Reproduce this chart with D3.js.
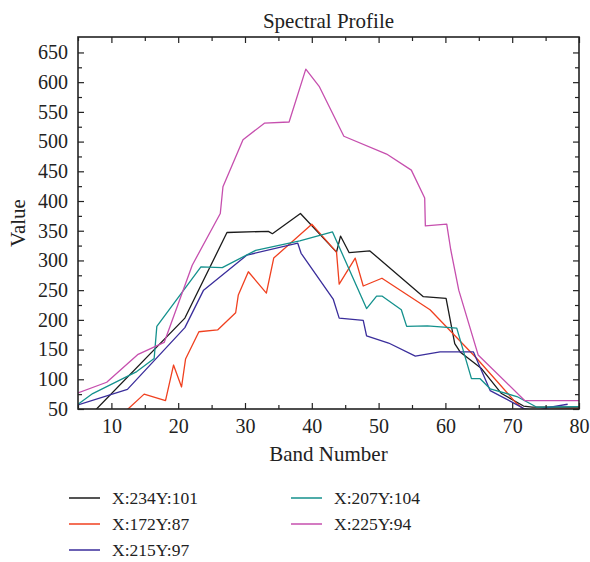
<!DOCTYPE html>
<html>
<head>
<meta charset="utf-8">
<script src="https://cdn.jsdelivr.net/npm/d3@7"></script>
<style>
  body { margin: 0; background: #fff; }
  text { font-family: "Liberation Serif", "DejaVu Serif", serif; fill: #222; }
</style>
</head>
<body>
<svg id="canvas"></svg>
<script>
/***********************************************************************/
// Data

var seriesNames  = ['X:234Y:101', 'X:172Y:87', 'X:215Y:97', 'X:207Y:104', 'X:225Y:94'];
var seriesColors = ['#1b1b1b', '#f0401f', '#3a2d9b', '#14918d', '#c64fae'];

var bandsBlack  = [5, 21, 27.3, 33.5, 34.1, 38.3, 43.7, 44.3, 45.6, 48.7, 56.7, 60.1, 61.4, 62.2, 65.4, 68.4, 71.7, 73, 80];
var valuesBlack = [18, 203, 347, 349, 345, 379, 314, 341, 313, 316, 239, 236, 160, 146, 118, 76, 55, 53, 53];

var bandsRed  = [12, 14.9, 18.1, 19.3, 20.5, 21.1, 23.1, 25.9, 28.6, 29.0, 30.5, 33.2, 34.3, 40.0, 43.7, 44.1, 46.5, 47.7, 50.5, 57.7, 64.7, 70.6, 71.8, 80];
var valuesRed = [45, 75, 64, 124, 87, 134, 180, 183, 212, 242, 281, 245, 304, 361, 314, 260, 304, 257, 270, 217, 135, 60, 49, 51];

var bandsBlue  = [5, 12.4, 21, 23.8, 30.3, 37.9, 38.4, 43.2, 44.1, 47.7, 48.2, 51.5, 55.5, 59.2, 64.2, 66.7, 69.9, 71.7, 73.5, 75.7, 78.3];
var valuesBlue = [57, 83, 187, 250, 309, 329, 312, 235, 203, 199, 173, 161, 139, 146, 146, 81, 62, 51, 47, 53, 58];

var bandsTeal  = [5, 7.2, 13.8, 16.4, 16.8, 23.4, 26.6, 31.6, 38.2, 43.1, 48.2, 49.7, 50.5, 53.4, 54.2, 57.3, 61.7, 63.9, 65.2, 66.7, 70.7, 73.7, 80];
var valuesTeal = [58, 76, 113, 135, 189, 289, 288, 317, 333, 348, 219, 240, 240, 217, 189, 190, 186, 101, 101, 84, 71, 53, 54];

var bandsMagenta  = [5, 9.3, 14, 17.9, 22.1, 26.3, 26.7, 29.7, 32.9, 36.6, 39.1, 41.1, 44.8, 51.2, 54.9, 56.9, 57.0, 60.2, 60.8, 62.0, 64.9, 71.9, 80];
var valuesMagenta = [77, 95, 142, 162, 292, 379, 424, 503, 531, 533, 622, 593, 509, 479, 452, 405, 358, 361, 318, 250, 141, 64, 64];

var xMajorTicks = [10, 20, 30, 40, 50, 60, 70, 80];
var xMinorTicks = [5, 15, 25, 35, 45, 55, 65, 75];
var yMajorTicks = [50, 100, 150, 200, 250, 300, 350, 400, 450, 500, 550, 600, 650];
var yMinorTicks = [75, 125, 175, 225, 275, 325, 375, 425, 475, 525, 575, 625];

/***********************************************************************/
// Layout

var svg_width = 590, svg_height = 562;
var plot = { left: 78, top: 37, right: 579, bottom: 409 };

var series = [
  { bands: bandsBlack,   values: valuesBlack   },
  { bands: bandsRed,     values: valuesRed     },
  { bands: bandsBlue,    values: valuesBlue    },
  { bands: bandsTeal,    values: valuesTeal    },
  { bands: bandsMagenta, values: valuesMagenta },
];
series.forEach((s, i) => { s.name = seriesNames[i]; s.color = seriesColors[i]; });

var svg = d3.select('#canvas').attr('width', svg_width).attr('height', svg_height);

var xScale = d3.scaleLinear().domain([5, 80]).range([plot.left, plot.right]);
var yScale = d3.scaleLinear().domain([50, 676]).range([plot.bottom, plot.top]);

/***********************************************************************/
// Lines

svg.append('clipPath').attr('id', 'plotClip')
  .append('rect')
  .attr('x', plot.left).attr('y', plot.top)
  .attr('width', plot.right - plot.left).attr('height', plot.bottom - plot.top);

var line = d3.line().x(d => xScale(d[0])).y(d => yScale(d[1]));

svg.append('g').attr('clip-path', 'url(#plotClip)')
  .selectAll('path').data(series).enter().append('path')
  .attr('d', s => line(s.bands.map((b, i) => [b, s.values[i]])))
  .attr('fill', 'none')
  .attr('stroke', s => s.color)
  .attr('stroke-width', 1.3)
  .attr('stroke-linejoin', 'round');

/***********************************************************************/
// Axes (ticks point inwards, mirrored on top and right)

function styleAxis(g){
  g.select('.domain').remove();
  g.selectAll('line').attr('stroke', '#222').attr('stroke-width', 1.2);
  g.selectAll('text').attr('font-size', 20).attr('fill', '#222')
    .attr('font-family', '"Liberation Serif", "DejaVu Serif", serif');
}

var bottomY = plot.bottom, topY = plot.top;

svg.append('g').attr('transform', 'translate(0,' + bottomY + ')')
  .call(d3.axisBottom(xScale).tickValues(xMajorTicks).tickSize(-6).tickPadding(10)).call(styleAxis);
svg.append('g').attr('transform', 'translate(0,' + bottomY + ')')
  .call(d3.axisBottom(xScale).tickValues(xMinorTicks).tickSize(-4).tickFormat('')).call(styleAxis);
svg.append('g').attr('transform', 'translate(0,' + topY + ')')
  .call(d3.axisTop(xScale).tickValues(xMajorTicks).tickSize(-6).tickFormat('')).call(styleAxis);
svg.append('g').attr('transform', 'translate(0,' + topY + ')')
  .call(d3.axisTop(xScale).tickValues(xMinorTicks).tickSize(-4).tickFormat('')).call(styleAxis);

svg.append('g').attr('transform', 'translate(' + plot.left + ',0)')
  .call(d3.axisLeft(yScale).tickValues(yMajorTicks).tickSize(-6).tickPadding(10)).call(styleAxis);
svg.append('g').attr('transform', 'translate(' + plot.left + ',0)')
  .call(d3.axisLeft(yScale).tickValues(yMinorTicks).tickSize(-4).tickFormat('')).call(styleAxis);
svg.append('g').attr('transform', 'translate(' + plot.right + ',0)')
  .call(d3.axisRight(yScale).tickValues(yMajorTicks).tickSize(-6).tickFormat('')).call(styleAxis);
svg.append('g').attr('transform', 'translate(' + plot.right + ',0)')
  .call(d3.axisRight(yScale).tickValues(yMinorTicks).tickSize(-4).tickFormat('')).call(styleAxis);

// frame
svg.append('rect')
  .attr('x', plot.left).attr('y', plot.top)
  .attr('width', plot.right - plot.left).attr('height', plot.bottom - plot.top)
  .attr('fill', 'none').attr('stroke', '#222').attr('stroke-width', 1.6);

/***********************************************************************/
// Titles

var midX = (plot.left + plot.right) / 2;

svg.append('text').attr('x', midX).attr('y', 28)
  .attr('text-anchor', 'middle').attr('font-size', 21).text('Spectral Profile');

svg.append('text').attr('x', midX).attr('y', 461)
  .attr('text-anchor', 'middle').attr('font-size', 21).text('Band Number');

svg.append('text')
  .attr('transform', 'translate(25,' + ((plot.top + plot.bottom) / 2) + ') rotate(-90)')
  .attr('text-anchor', 'middle').attr('font-size', 21).text('Value');

/***********************************************************************/
// Legend

var legendCols = [ { lineX: 69, textX: 112 }, { lineX: 291, textX: 334 } ];
var legendRowY = [498, 524, 550];
var legendOrder = [ [0, 0, 0], [1, 0, 1], [2, 0, 2], [3, 1, 0], [4, 1, 1] ]; // series, col, row

var legend = svg.append('g');
legendOrder.forEach(item => {
  var s = series[item[0]], col = legendCols[item[1]], y = legendRowY[item[2]];
  legend.append('line')
    .attr('x1', col.lineX).attr('x2', col.lineX + 31).attr('y1', y).attr('y2', y)
    .attr('stroke', s.color).attr('stroke-width', 1.5);
  legend.append('text')
    .attr('x', col.textX).attr('y', y).attr('dy', '0.35em')
    .attr('font-size', 17.5).text(s.name);
});
</script>
</body>
</html>
